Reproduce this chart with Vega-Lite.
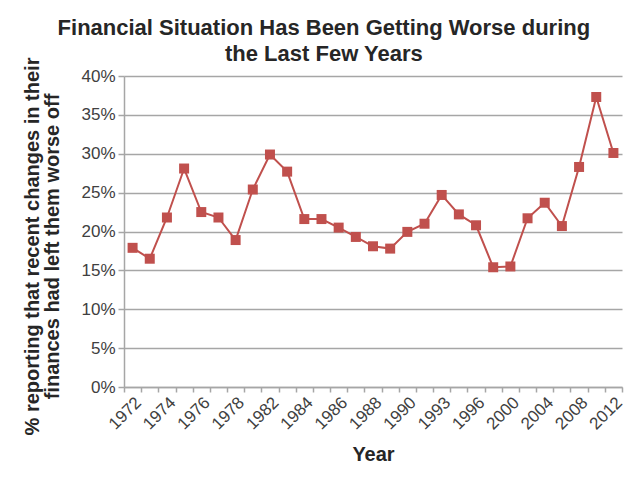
{
  "$schema": "https://vega.github.io/schema/vega-lite/v6.json",
  "width": 498,
  "height": 311,
  "autosize": {"type": "none"},
  "padding": {"left": 124, "top": 76, "right": 13, "bottom": 90},
  "background": "#ffffff",
  "title": {
    "text": ["Financial Situation Has Been Getting Worse during", "the Last Few Years"],
    "font": "Liberation Sans",
    "fontSize": 22,
    "fontWeight": "bold",
    "color": "#262626",
    "lineHeight": 26,
    "anchor": "middle",
    "frame": "bounds",
    "offset": -9
  },
  "config": {
    "view": {"stroke": null},
    "axis": {
      "labelFont": "Liberation Sans",
      "titleFont": "Liberation Sans",
      "labelColor": "#404040",
      "titleColor": "#262626",
      "domainColor": "#a6a6a6",
      "tickColor": "#a6a6a6",
      "domainWidth": 1.5,
      "tickWidth": 1.5
    }
  },
  "data": {
    "values": [
      {"year": "1972", "pct": 0.179},
      {"year": "1973", "pct": 0.165},
      {"year": "1974", "pct": 0.218},
      {"year": "1975", "pct": 0.281},
      {"year": "1976", "pct": 0.225},
      {"year": "1977", "pct": 0.218},
      {"year": "1978", "pct": 0.189},
      {"year": "1980", "pct": 0.254},
      {"year": "1982", "pct": 0.299},
      {"year": "1983", "pct": 0.277},
      {"year": "1984", "pct": 0.216},
      {"year": "1985", "pct": 0.216},
      {"year": "1986", "pct": 0.205},
      {"year": "1987", "pct": 0.193},
      {"year": "1988", "pct": 0.181},
      {"year": "1989", "pct": 0.178},
      {"year": "1990", "pct": 0.1995},
      {"year": "1991", "pct": 0.210},
      {"year": "1993", "pct": 0.247},
      {"year": "1994", "pct": 0.222},
      {"year": "1996", "pct": 0.208},
      {"year": "1998", "pct": 0.154},
      {"year": "2000", "pct": 0.155},
      {"year": "2002", "pct": 0.217},
      {"year": "2004", "pct": 0.237},
      {"year": "2006", "pct": 0.207},
      {"year": "2008", "pct": 0.283},
      {"year": "2010", "pct": 0.373},
      {"year": "2012", "pct": 0.301}
    ]
  },
  "mark": {
    "type": "line",
    "color": "#c0504d",
    "strokeWidth": 2,
    "point": {"shape": "square", "filled": true, "size": 100, "color": "#c0504d", "opacity": 1}
  },
  "encoding": {
    "x": {
      "field": "year",
      "type": "ordinal",
      "sort": null,
      "scale": {"type": "band", "paddingInner": 0, "paddingOuter": 0},
      "axis": {
        "title": "Year",
        "titleFontSize": 20,
        "titleFontWeight": "bold",
        "titlePadding": 12,
        "tickBand": "extent",
        "tickSize": 5,
        "labelAngle": -45,
        "labelAlign": "right",
        "labelBaseline": "top",
        "labelFontSize": 17,
        "labelPadding": 2,
        "labelOverlap": false,
        "labelExpr": "indexof(['1972','1974','1976','1978','1982','1984','1986','1988','1990','1993','1996','2000','2004','2008','2012'], datum.label) >= 0 ? datum.label : ''",
        "grid": false
      }
    },
    "y": {
      "field": "pct",
      "type": "quantitative",
      "scale": {"domain": [0, 0.4], "nice": false},
      "axis": {
        "title": ["% reporting that recent changes in their", "finances had left them worse off"],
        "titleFontSize": 20,
        "titleFontWeight": "bold",
        "titleLineHeight": 20,
        "titlePadding": 18,
        "titleY": 170,
        "values": [0, 0.05, 0.1, 0.15, 0.2, 0.25, 0.3, 0.35, 0.4],
        "format": ".0%",
        "labelFontSize": 17,
        "labelPadding": 3,
        "tickSize": 6,
        "grid": true,
        "gridColor": "#a6a6a6",
        "gridWidth": 1.5
      }
    }
  }
}
